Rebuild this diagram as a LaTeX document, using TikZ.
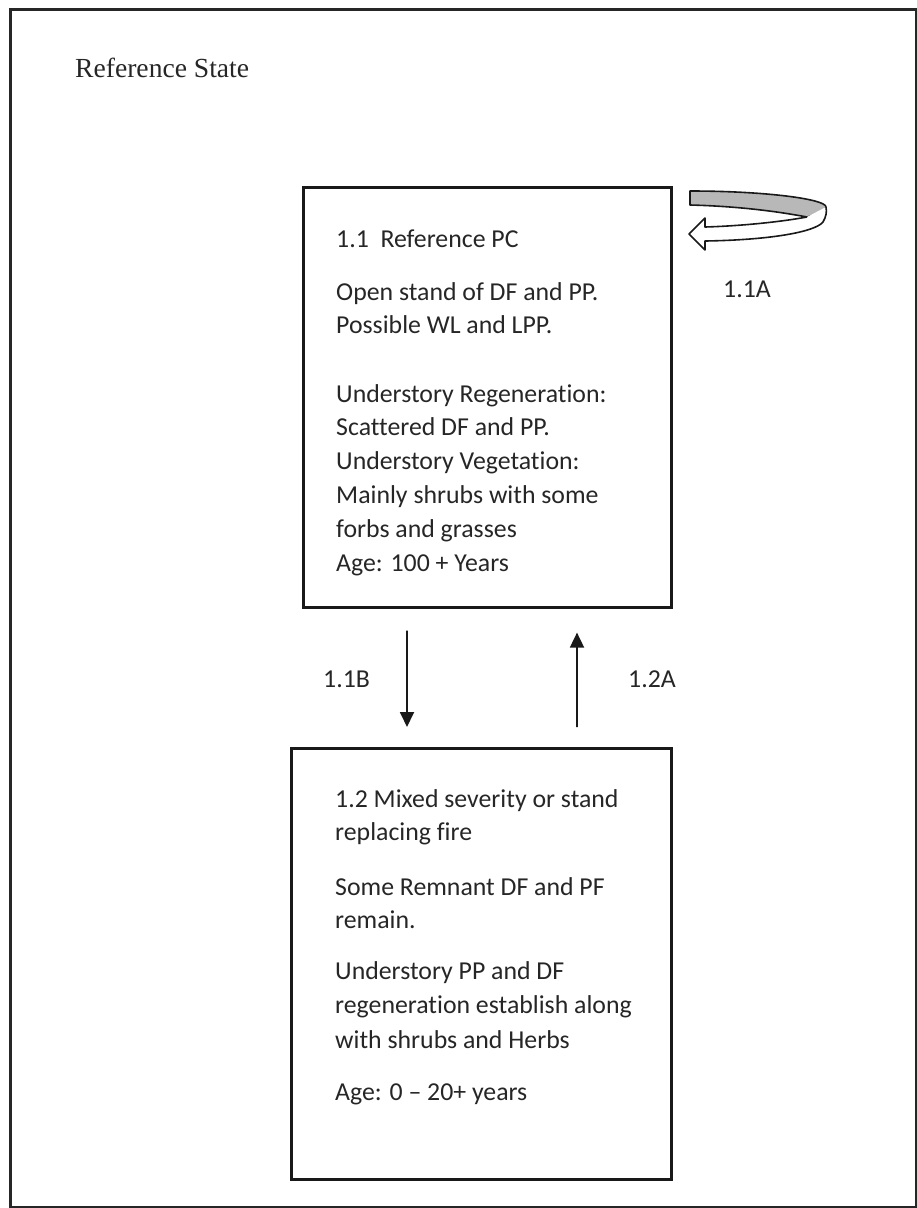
\documentclass[tikz,border=0pt]{standalone}
\usepackage{fontspec}
\setmainfont{Carlito}[Ligatures={NoCommon}]
\newfontfamily\timesfont{Liberation Serif}
\usetikzlibrary{arrows.meta}
\begin{document}
\begin{tikzpicture}[x=1bp,y=-1bp,
  txt/.style={anchor=base west, inner sep=0pt, font=\fontsize{25.8bp}{30bp}\selectfont, text=black!85},
  boxstyle/.style={draw=black!90, line width=2.6bp, anchor=north west, inner sep=0pt},
  flow/.style={line width=1.8bp, draw=black!90, -{Triangle[width=14bp,length=15bp]}},
  ribbon/.style={line width=1.6bp, draw=black!90, line join=round}]
\useasboundingbox (0,0) rectangle (917,1208);
\node[draw=black!85, line width=3bp, anchor=north west, inner sep=0pt,
      minimum width=905.5bp, minimum height=1197.5bp] (frame) at (9,8) {};
\node[anchor=base west, inner sep=0pt, font=\timesfont\fontsize{27.6bp}{30bp}\selectfont, text=black!85] (title) at (75,77) {Reference State};

% boxes
\node[boxstyle, minimum width=368bp, minimum height=420bp] (box1) at (302,186) {};
\node[boxstyle, minimum width=380bp, minimum height=431bp] (box2) at (290,747) {};

% box 1 text
\node[txt] (a1) at (336,247) {1.1\ \ Reference PC};
\node[txt] (a2) at (336,300) {Open stand of DF and PP.};
\node[txt] (a3) at (336,333) {Possible WL and LPP.};
\node[txt] (a4) at (336,402) {Understory Regeneration:};
\node[txt] (a5) at (336,435) {Scattered DF and PP.};
\node[txt] (a6) at (336,469) {Understory Vegetation:};
\node[txt] (a7) at (336,503) {Mainly shrubs with some};
\node[txt] (a8) at (336,537) {forbs and grasses};
\node[txt] (a9) at (336,571) {Age: 100 + Years};

% box 2 text
\node[txt] (b1) at (335,807) {1.2 Mixed severity or stand};
\node[txt] (b2) at (335,840) {replacing fire};
\node[txt] (b3) at (335,895) {Some Remnant DF and PF};
\node[txt] (b4) at (335,928) {remain.};
\node[txt] (b5) at (335,979) {Understory PP and DF};
\node[txt] (b6) at (335,1013) {regeneration establish along};
\node[txt] (b7) at (335,1048) {with shrubs and Herbs};
\node[txt] (b8) at (335,1100) {Age: 0 -- 20+ years};

% transitions
\draw[flow] ([xshift=105bp,yshift=-22bp]box1.south west) -- ([xshift=117bp,yshift=20bp]box2.north west);
\draw[flow] ([xshift=287bp,yshift=20bp]box2.north west) -- ([xshift=275bp,yshift=-24bp]box1.south west);
\node[txt] (l11b) at (323,687) {1.1B};
\node[txt] (l12a) at (628,687) {1.2A};
\node[txt] (l11a) at (723,297) {1.1A};

% self-loop ribbon arrow
\filldraw[ribbon, fill=black!28] (690,191) .. controls (765,191) and (826,199) .. (826,207)
   .. controls (826,211) and (820,214) .. (807,217)
   .. controls (770,210) and (730,206) .. (690,205) -- cycle;
\filldraw[ribbon, fill=white] (807,217) .. controls (780,222) and (740,226) .. (705,227)
   -- (705,218) -- (689,234) -- (705,250) -- (705,241)
   .. controls (770,240) and (815,232) .. (823,222)
   .. controls (826,217) and (827,212) .. (826,207);
\end{tikzpicture}
\end{document}
